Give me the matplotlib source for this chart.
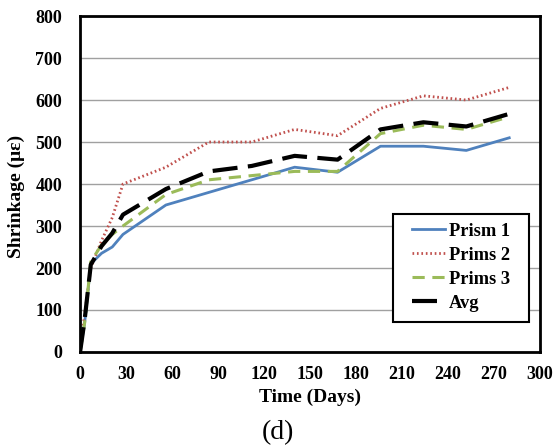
import matplotlib.pyplot as plt
from matplotlib.patches import Rectangle

plt.rcParams['font.family'] = ['Liberation Serif', 'DejaVu Serif']

# Shrinkage readings (microstrain) at each age
days = [0, 3, 7, 14, 21, 28, 56, 84, 112, 140, 168, 196, 224, 252, 280]
prism1 = [0, 70, 210, 235, 250, 280, 350, 380, 410, 440, 428, 490, 490, 480, 510]
prism2 = [0, 90, 200, 265, 320, 400, 440, 500, 500, 530, 515, 580, 610, 600, 630]
prism3 = [0, 70, 215, 255, 280, 300, 375, 410, 420, 430, 430, 520, 540, 530, 560]
avg = [0, 77, 208, 252, 283, 327, 388, 430, 443, 467, 458, 530, 547, 537, 567]

fig = plt.figure(figsize=(5.56, 4.45), dpi=100)
ax = fig.add_axes([0.144, 0.209, 0.827, 0.755])

ax.plot(days, prism1, color='#4F81BD', lw=2, label='Prism 1')
ax.plot(days, prism2, color='#C0504D', lw=2, linestyle=(0, (0.6, 1.0)), label='Prims 2')
ax.plot(days, prism3, color='#9BBB59', lw=2.2, linestyle=(0, (4, 2.5)), label='Prims 3')
ax.plot(days, avg, color='black', lw=3, linestyle=(0, (6, 2.5)), label='Avg')

ax.set_xlim(0, 300)
ax.set_ylim(0, 800)
ax.set_xticks(range(0, 301, 30))
ax.set_yticks(range(0, 801, 100))
ax.yaxis.grid(True, color='#A0A0A0', lw=1)
ax.set_axisbelow(True)
ax.tick_params(length=0, labelsize=13)
ax.tick_params(axis='y', pad=13)
ax.tick_params(axis='x', pad=10)
for lab in ax.get_xticklabels() + ax.get_yticklabels():
    lab.set_fontweight('bold')
for s in ax.spines.values():
    s.set_linewidth(2)

ax.set_xlabel('Time (Days)', fontsize=14, fontweight='bold', labelpad=4)
ax.set_ylabel('Shrinkage (με)', fontsize=14, fontweight='bold')
ax.yaxis.set_label_coords(-0.12, 0.464)
fig.text(0.5, 0.027, '(d)', ha='center', va='center', fontsize=20)

# legend entries without frame, box drawn separately for wider side margins
leg = ax.legend(loc='upper left', bbox_to_anchor=(0.722, 0.385), borderaxespad=0,
                prop={'weight': 'bold', 'size': 13.3}, frameon=False,
                handlelength=1.8, handletextpad=0.2, borderpad=0, labelspacing=0.38)
box = Rectangle((0.680, 0.089), 0.296, 0.322, transform=ax.transAxes,
                facecolor='white', edgecolor='black', lw=1.5, zorder=4)
ax.add_patch(box)
leg.set_zorder(5)

fig.savefig('out.png', dpi=100)
